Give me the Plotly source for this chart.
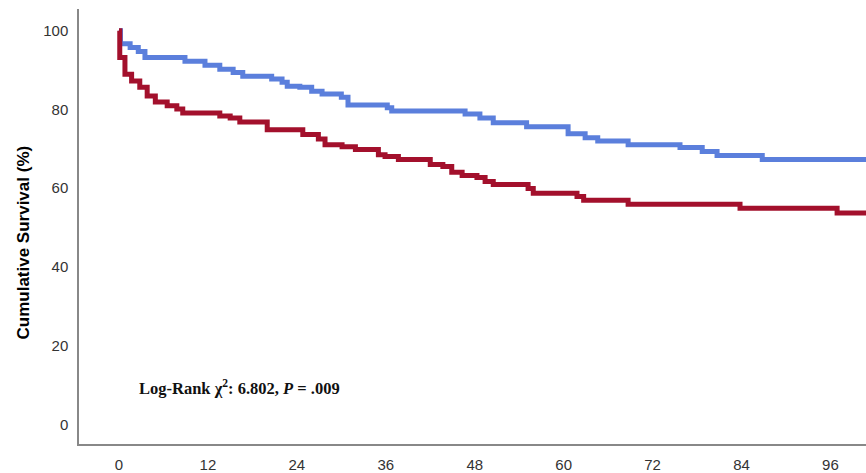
import plotly.graph_objects as go

# Kaplan-Meier step data (months, cumulative survival %)
blue_t = [0, 0.2, 1.5, 2.6, 3.5, 8.9, 11.6, 13.6, 15.4, 16.7, 20.6, 22.0, 22.7, 24.4, 26.0, 27.4, 30.0,
          30.9, 36.2, 36.8, 46.7, 48.7, 50.5, 55.0, 60.6, 62.9, 64.6, 68.7, 75.7, 78.7, 80.7, 86.8, 101]
blue_s = [100, 96.7, 95.7, 94.7, 93.2, 92.2, 91.2, 90.2, 89.4, 88.4, 87.7, 86.9, 85.9, 85.6, 84.6, 83.9, 83.1,
          81.1, 80.4, 79.6, 78.8, 77.8, 76.6, 75.6, 73.8, 72.8, 72.0, 71.0, 70.3, 69.3, 68.3, 67.3, 67.3]

red_t = [0, 0.1, 0.8, 1.7, 2.8, 3.8, 4.9, 6.5, 7.8, 8.6, 13.6, 15.0, 16.3, 20.0, 24.8, 26.9, 27.8, 30.1,
         31.9, 35.0, 35.9, 37.7, 42.0, 43.7, 44.9, 46.3, 48.3, 49.4, 50.5, 55.2, 55.9, 61.8, 62.7, 68.7,
         83.8, 96.9, 101]
red_s = [100, 93.2, 88.9, 87.2, 85.6, 83.4, 81.9, 80.9, 80.1, 79.1, 78.3, 77.8, 76.8, 74.8, 73.6, 72.5, 71.0, 70.5,
         69.8, 68.5, 68.0, 67.3, 66.0, 65.5, 64.0, 63.2, 62.7, 61.7, 60.9, 59.9, 58.7, 57.9, 56.9, 55.9,
         54.9, 53.7, 53.7]

x_ticks = [0, 12, 24, 36, 48, 60, 72, 84, 96]
y_ticks = [0, 20, 40, 60, 80, 100]

fig = go.Figure()
fig.add_trace(go.Scatter(x=blue_t, y=blue_s, mode="lines", line=dict(shape="hv", color="#5B7FDC", width=5),
                         showlegend=False, hoverinfo="skip"))
fig.add_trace(go.Scatter(x=red_t, y=red_s, mode="lines", line=dict(shape="hv", color="#A3102C", width=5),
                         showlegend=False, hoverinfo="skip"))

fig.add_annotation(x=2.4, y=9.4, xref="x", yref="y", xanchor="left", yanchor="middle", showarrow=False,
                   text="<b>Log-Rank χ<sup>2</sup>: 6.802, <i>P</i> = .009</b>",
                   font=dict(family="Liberation Serif, Times New Roman, serif", size=16.5, color="#111"))

fig.add_annotation(x=0, y=0.5, xref="paper", yref="paper", xanchor="center", yanchor="middle",
                   xshift=23 - 79, yshift=-16, showarrow=False, textangle=-90,
                   text="<b>Cumulative Survival (%)</b>",
                   font=dict(family="Liberation Sans, Arial, sans-serif", size=17, color="#000"))

fig.update_layout(
    width=866, height=473,
    margin=dict(l=79, r=0, t=9, b=25),
    plot_bgcolor="white", paper_bgcolor="white",
    font=dict(family="Liberation Sans, Arial, sans-serif", size=15, color="#333"),
)

fig.update_xaxes(range=[-5.4, 100.8], tickvals=x_ticks, ticktext=[str(v) for v in x_ticks],
                 showline=True, linecolor="#888", linewidth=1.5, showgrid=False, zeroline=False,
                 ticks="", ticklabelstandoff=6)
fig.update_yaxes(range=[-5, 105.5], tickvals=y_ticks, ticktext=[str(v) for v in y_ticks],
                 showline=True, linecolor="#888", linewidth=1.5, showgrid=False, zeroline=False,
                 ticks="", ticklabelstandoff=6)

fig.write_html("out.html")
